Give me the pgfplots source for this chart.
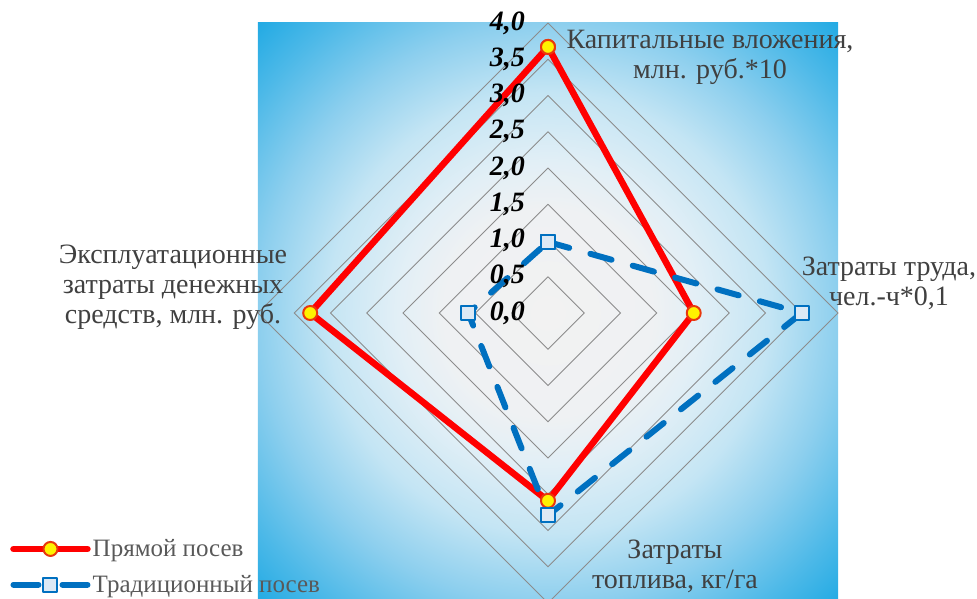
\documentclass[border=0pt]{standalone}
\usepackage{fontspec}
\setmainfont{Liberation Serif}
\usepackage{pgfplots}
\pgfplotsset{compat=1.18}
\definecolor{gridc}{HTML}{8C8C8C}
\definecolor{labc}{HTML}{404040}
\definecolor{legc}{HTML}{595959}
\definecolor{bluec}{HTML}{0070C0}
\definecolor{bluefill}{HTML}{DCE9F5}
\definecolor{redc}{HTML}{FF0000}
\definecolor{markred}{HTML}{E8380D}
\definecolor{s0}{HTML}{F2F2F2}
\definecolor{s1}{HTML}{EFF1F3}
\definecolor{s2}{HTML}{E2EFF6}
\definecolor{s3}{HTML}{C4E5F4}
\definecolor{s4}{HTML}{8DCFEE}
\definecolor{s5}{HTML}{4DB9E8}
\definecolor{s6}{HTML}{1CA8E3}
\pgfdeclareradialshading{bgshade}{\pgfpoint{0bp}{0bp}}{color(0bp)=(s0); color(9bp)=(s1); color(13bp)=(s2); color(19bp)=(s3); color(25bp)=(s4); color(31bp)=(s5); color(36bp)=(s6); color(50bp)=(s6)}
\begin{document}
\begin{tikzpicture}
\useasboundingbox (0,0) rectangle (977pt,598pt);
\begin{axis}[at={(548pt,285pt)}, anchor=center, x=72.5pt, y=72.5pt,
  xmin=-4, xmax=4, ymin=-4, ymax=4, hide axis, clip=false,
  legend style={at={(axis cs:-7.42,-3.5)}, anchor=west, draw=none, fill=none,
    font=\fontsize{25}{28}\selectfont, text=legc, row sep=13pt, inner sep=0pt,
    cells={anchor=west}},
  legend cell align=left]
\path[shading=bgshade] (axis cs:-4,-4) rectangle (axis cs:4,4);
\pgfplotsinvokeforeach{0.5,1,...,4}{
  \addplot[gridc, line width=0.8pt, forget plot] coordinates {(0,#1) (#1,0) (0,-#1) (-#1,0) (0,#1)};
}
\addplot[redc, line width=6.5pt, line join=round, mark=*, mark size=7pt,
  mark options={fill=yellow, draw=markred, line width=2pt},
  legend image code/.code={\draw[redc, line width=6.5pt, line cap=round] (0pt,0pt)--(74pt,0pt);
    \draw[mark options={fill=yellow, draw=markred, line width=2pt}] plot[mark=*, mark size=7pt, only marks] coordinates {(37pt,0pt)};}]
  coordinates {(0,3.67) (2.01,0) (0,-2.59) (-3.28,0) (0,3.67)};
\addplot[bluec, line width=6pt, line cap=round, line join=round, dash pattern=on 22pt off 22pt,
  mark=square*, mark size=7pt,
  mark options={solid, fill=bluefill, draw=bluec, line width=2pt},
  legend image code/.code={\draw[bluec, solid, line width=6pt, line cap=round] (0pt,0pt)--(25pt,0pt);
    \draw[bluec, solid, line width=6pt, line cap=round] (49pt,0pt)--(74pt,0pt);
    \draw[mark options={solid, fill=bluefill, draw=bluec, line width=2pt}] plot[mark=square*, mark size=7pt, only marks] coordinates {(37pt,0pt)};}]
  coordinates {(0,0.98) (3.5,0) (0,-2.79) (-1.1,0) (0,0.98)};
\legend{Прямой посев, Традиционный посев}
\end{axis}
\begin{scope}[every node/.style={font=\fontsize{28}{30}\selectfont\bfseries\itshape, anchor=east, inner sep=0pt}]
\node at (525pt,285pt) {0,0};
\node at (525pt,321.25pt) {0,5};
\node at (525pt,357.5pt) {1,0};
\node at (525pt,393.75pt) {1,5};
\node at (525pt,430pt) {2,0};
\node at (525pt,466.25pt) {2,5};
\node at (525pt,502.5pt) {3,0};
\node at (525pt,538.75pt) {3,5};
\node at (525pt,575pt) {4,0};
\end{scope}
\begin{scope}[every node/.style={font=\fontsize{28}{30}\selectfont, text=labc, align=center, inner sep=0pt}]
\node at (710pt,541pt) {Капитальные вложения,\\млн. руб.*10};
\node at (889pt,315pt) {Затраты труда,\\чел.-ч*0,1};
\node at (173pt,311pt) {Эксплуатационные\\затраты денежных\\средств, млн. руб.};
\node at (675pt,32pt) {Затраты\\топлива, кг/га};
\end{scope}
\end{tikzpicture}
\end{document}
